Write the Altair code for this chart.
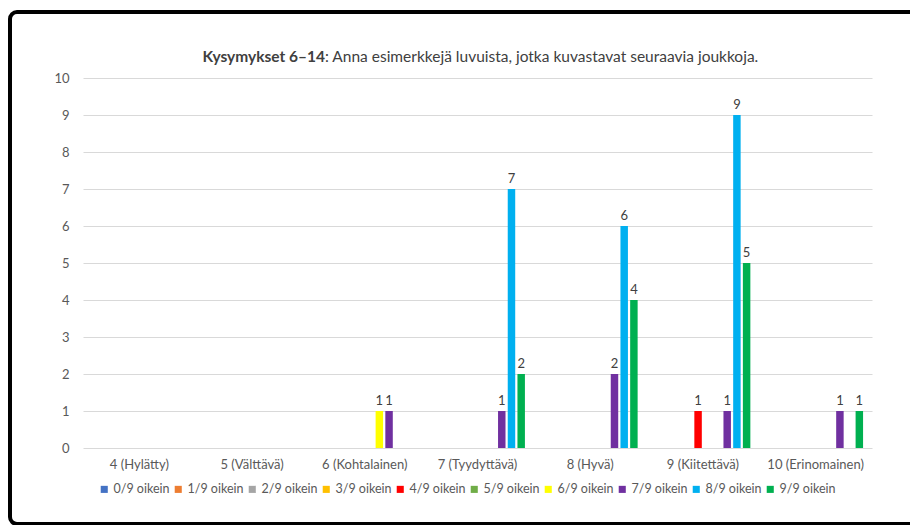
import altair as alt
import pandas as pd

# Grade categories on the x axis
categories = [
    "4 (Hylätty)",
    "5 (Välttävä)",
    "6 (Kohtalainen)",
    "7 (Tyydyttävä)",
    "8 (Hyvä)",
    "9 (Kiitettävä)",
    "10 (Erinomainen)",
]

# Series: number of correct answers
series = [
    "0/9 oikein", "1/9 oikein", "2/9 oikein", "3/9 oikein", "4/9 oikein",
    "5/9 oikein", "6/9 oikein", "7/9 oikein", "8/9 oikein", "9/9 oikein",
]

colors = [
    "#4472C4", "#ED7D31", "#A5A5A5", "#FFC000", "#FF0000",
    "#70AD47", "#FFFF00", "#7030A0", "#00B0F0", "#00B050",
]

# y axis tick values
y_ticks = [0, 1, 2, 3, 4, 5, 6, 7, 8, 9, 10]

# Counts per series, one value per grade category
s0 = [0, 0, 0, 0, 0, 0, 0]
s1 = [0, 0, 0, 0, 0, 0, 0]
s2 = [0, 0, 0, 0, 0, 0, 0]
s3 = [0, 0, 0, 0, 0, 0, 0]
s4 = [0, 0, 0, 0, 0, 1, 0]
s5 = [0, 0, 0, 0, 0, 0, 0]
s6 = [0, 0, 1, 0, 0, 0, 0]
s7 = [0, 0, 1, 1, 2, 1, 1]
s8 = [0, 0, 0, 7, 6, 9, 0]
s9 = [0, 0, 0, 2, 4, 5, 1]
counts = [s0, s1, s2, s3, s4, s5, s6, s7, s8, s9]

rows = []
for name, vals in zip(series, counts):
    for cat, v in zip(categories, vals):
        rows.append({"kategoria": cat, "sarja": name, "lkm": v})
df = pd.DataFrame(rows)

W, H = 789, 370
GRAY = "#595959"
FONT = "Lato"

x_enc = alt.X(
    "kategoria:N",
    sort=categories,
    scale=alt.Scale(domain=categories, paddingInner=0, paddingOuter=0),
    axis=alt.Axis(
        title=None, labelAngle=0, ticks=False, domain=False, grid=False,
        labelFontSize=13, labelColor=GRAY, labelPadding=10, labelFont=FONT,
    ),
)
xoff_enc = alt.XOffset(
    "sarja:N",
    sort=series,
    scale=alt.Scale(domain=series, paddingInner=0.23, paddingOuter=0.92),
)
y_enc = alt.Y(
    "lkm:Q",
    scale=alt.Scale(domain=[0, 10], nice=False),
    axis=alt.Axis(
        title=None, values=y_ticks, ticks=False,
        domain=False, grid=True, gridColor="#D9D9D9", gridWidth=1,
        labelOverlap=False, labelFontSize=13, labelColor=GRAY,
        labelPadding=14, labelFont=FONT,
    ),
)

base = alt.Chart(df).encode(x=x_enc, xOffset=xoff_enc, y=y_enc)

bars = base.mark_bar().encode(
    color=alt.Color(
        "sarja:N",
        sort=series,
        scale=alt.Scale(domain=series, range=colors),
        legend=alt.Legend(
            title=None, orient="none", legendX=15, legendY=405,
            direction="horizontal", columns=10, symbolType="square",
            symbolSize=50, symbolStrokeWidth=0, labelFontSize=12.5,
            labelColor=GRAY, labelFont=FONT, labelOffset=3,
            columnPadding=2, padding=0,
        ),
    ),
)

labels = base.transform_filter("datum.lkm > 0").mark_text(
    baseline="bottom", dy=-3, fontSize=13, color="#404040", font=FONT
).encode(text=alt.Text("lkm:Q"))

one = alt.Data(values=[{}])

title_bold = alt.Chart(one).mark_text(
    text="Kysymykset 6–14", align="right", baseline="middle",
    fontSize=15.5, fontWeight="bold", color="#404040", font=FONT,
).encode(x=alt.value(242), y=alt.value(-21))

title_rest = alt.Chart(one).mark_text(
    text=": Anna esimerkkejä luvuista, jotka kuvastavat seuraavia joukkoja.",
    align="left", baseline="middle", fontSize=15.5, color="#404040", font=FONT,
).encode(x=alt.value(242), y=alt.value(-21))

# Rounded outer frame that continues to the right edge of the canvas:
# a narrow rounded rect supplies the left corners, its own right side is
# painted over in white, and the top and bottom edges continue as rules.
corner = alt.Chart(one).mark_rect(
    fill=None, stroke="black", strokeWidth=4, cornerRadius=7
).encode(
    x=alt.value(-73), x2=alt.value(-50), y=alt.value(-66), y2=alt.value(446)
)
eraser = alt.Chart(one).mark_rule(color="white", strokeWidth=16).encode(
    x=alt.value(-50), y=alt.value(-64), y2=alt.value(444)
)
edge_top = alt.Chart(one).mark_rule(color="black", strokeWidth=4).encode(
    x=alt.value(-62), x2=alt.value(827), y=alt.value(-66)
)
edge_bottom = alt.Chart(one).mark_rule(color="black", strokeWidth=4).encode(
    x=alt.value(-62), x2=alt.value(827), y=alt.value(446)
)

chart = (
    alt.layer(corner, eraser, edge_top, edge_bottom,
              bars, labels, title_bold, title_rest)
    .properties(
        width=W, height=H,
        autosize=alt.AutoSizeParams(type="none"),
        padding={"left": 83, "top": 78, "right": 38, "bottom": 77},
        background="white",
    )
    .configure(font=FONT, view=alt.ViewConfig(stroke=None))
)

chart.save("out.html", embed_options={"renderer": "svg", "actions": False})
